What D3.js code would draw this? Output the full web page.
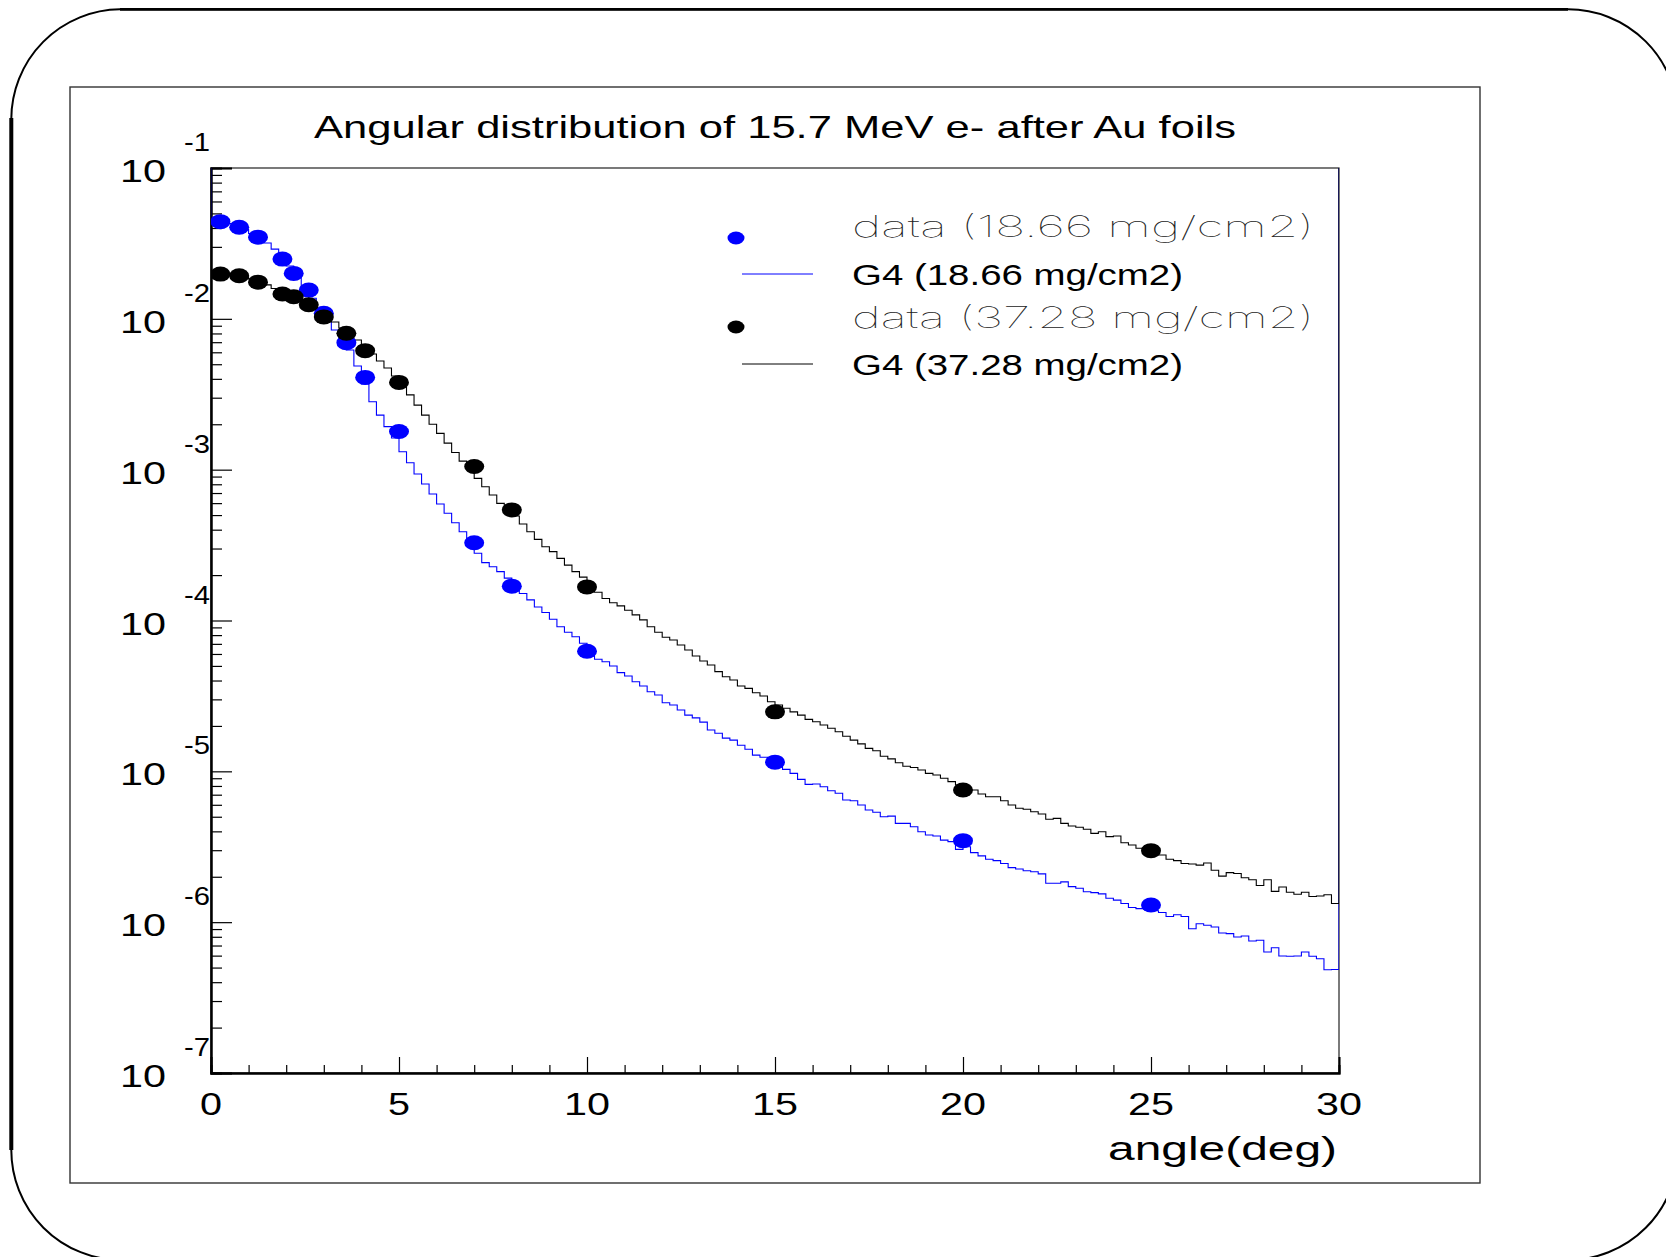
<!DOCTYPE html>
<html><head><meta charset="utf-8">
<script src="https://cdn.jsdelivr.net/npm/d3@7"></script>
<style>html,body{margin:0;padding:0;background:#fff}svg{display:block}</style>
</head><body>
<svg id="c" width="1666" height="1257"></svg>
<script>
// ---------------- data ----------------
const titleText = "Angular distribution of 15.7 MeV e- after Au foils";
const xAxisTitle = "angle(deg)";
const xTickValues = [0, 5, 10, 15, 20, 25, 30];
const yDecadeExponents = [-1, -2, -3, -4, -5, -6, -7];
const seriesLabels = ["data (18.66 mg/cm2)", "G4 (18.66 mg/cm2)", "data (37.28 mg/cm2)", "G4 (37.28 mg/cm2)"];

// histogram binning (150 bins of 0.2 deg from 0 to 30 deg)
const histLow = 0, histHigh = 30, histBins = 150;

// G4 simulation, 18.66 mg/cm2 (blue)
const g4Thin = [
 0.0459,0.0445,0.0429,0.0409,0.0391,0.0368,0.0344,0.0318,0.0290,0.0257,
 0.0224,0.0192,0.0163,0.0137,0.0116,9.82e-3,8.43e-3,7.24e-3,6.21e-3,4.87e-3,
 3.70e-3,2.82e-3,2.30e-3,1.93e-3,1.62e-3,1.315e-3,1.112e-3,9.36e-4,8.03e-4,6.90e-4,
 5.92e-4,5.14e-4,4.45e-4,3.88e-4,3.31e-4,2.79e-4,2.42e-4,2.27e-4,2.11e-4,1.91e-4,
 1.72e-4,1.51e-4,1.37e-4,1.23e-4,1.13e-4,1.02e-4,9.09e-5,8.35e-5,7.81e-5,7.06e-5,
 6.21e-5,5.53e-5,5.33e-5,4.99e-5,4.51e-5,4.29e-5,3.93e-5,3.68e-5,3.37e-5,3.21e-5,
 2.85e-5,2.75e-5,2.55e-5,2.36e-5,2.26e-5,2.12e-5,1.88e-5,1.79e-5,1.66e-5,1.61e-5,
 1.49e-5,1.40e-5,1.28e-5,1.24e-5,1.19e-5,1.10e-5,1.03e-5,9.70e-6,8.85e-6,8.20e-6,
 8.24e-6,7.91e-6,7.44e-6,7.15e-6,6.45e-6,6.38e-6,5.98e-6,5.54e-6,5.35e-6,5.00e-6,
 5.05e-6,4.52e-6,4.52e-6,4.29e-6,3.98e-6,3.78e-6,3.73e-6,3.50e-6,3.42e-6,3.04e-6,
 3.16e-6,2.89e-6,2.75e-6,2.61e-6,2.56e-6,2.45e-6,2.30e-6,2.25e-6,2.19e-6,2.16e-6,
 2.09e-6,1.81e-6,1.81e-6,1.85e-6,1.72e-6,1.68e-6,1.59e-6,1.57e-6,1.54e-6,1.44e-6,
 1.40e-6,1.33e-6,1.25e-6,1.23e-6,1.22e-6,1.19e-6,1.16e-6,1.09e-6,1.12e-6,1.09e-6,
 9.05e-7,9.76e-7,9.53e-7,9.29e-7,8.48e-7,8.39e-7,7.97e-7,8.09e-7,7.50e-7,7.58e-7,
 6.34e-7,6.77e-7,5.97e-7,5.95e-7,5.97e-7,6.34e-7,5.95e-7,5.72e-7,4.84e-7,4.85e-7
];
// G4 simulation, 37.28 mg/cm2 (black)
const g4Thick = [
 2.01e-2,1.98e-2,1.97e-2,1.94e-2,1.89e-2,1.84e-2,1.75e-2,1.68e-2,1.59e-2,1.51e-2,
 1.42e-2,1.34e-2,1.27e-2,1.20e-2,1.11e-2,1.03e-2,9.53e-3,8.69e-3,7.93e-3,7.24e-3,
 6.50e-3,5.85e-3,5.25e-3,4.72e-3,4.18e-3,3.59e-3,3.13e-3,2.68e-3,2.30e-3,2.00e-3,
 1.74e-3,1.50e-3,1.30e-3,1.14e-3,1.00e-3,8.76e-4,7.71e-4,6.79e-4,5.98e-4,5.49e-4,
 4.93e-4,4.36e-4,3.88e-4,3.45e-4,3.08e-4,2.86e-4,2.58e-4,2.33e-4,2.11e-4,1.94e-4,
 1.75e-4,1.54e-4,1.40e-4,1.31e-4,1.25e-4,1.17e-4,1.09e-4,1.01e-4,9.09e-5,8.35e-5,
 7.74e-5,7.42e-5,6.88e-5,6.37e-5,5.82e-5,5.39e-5,5.07e-5,4.58e-5,4.24e-5,4.03e-5,
 3.68e-5,3.55e-5,3.32e-5,3.16e-5,2.89e-5,2.75e-5,2.62e-5,2.48e-5,2.36e-5,2.21e-5,
 2.13e-5,2.03e-5,1.93e-5,1.83e-5,1.71e-5,1.61e-5,1.52e-5,1.42e-5,1.37e-5,1.26e-5,
 1.21e-5,1.14e-5,1.08e-5,1.06e-5,1.02e-5,9.70e-6,9.45e-6,8.99e-6,8.54e-6,8.12e-6,
 7.83e-6,7.52e-6,7.07e-6,6.79e-6,6.79e-6,6.38e-6,5.98e-6,5.69e-6,5.60e-6,5.40e-6,
 5.21e-6,4.81e-6,4.88e-6,4.52e-6,4.34e-6,4.26e-6,4.13e-6,3.88e-6,3.98e-6,3.69e-6,
 3.73e-6,3.36e-6,3.25e-6,3.09e-6,3.01e-6,2.87e-6,2.79e-6,2.61e-6,2.56e-6,2.45e-6,
 2.43e-6,2.39e-6,2.47e-6,2.21e-6,2.02e-6,2.13e-6,2.10e-6,1.97e-6,1.91e-6,1.75e-6,
 1.91e-6,1.60e-6,1.71e-6,1.58e-6,1.53e-6,1.58e-6,1.48e-6,1.49e-6,1.52e-6,1.33e-6
];
// measured points
const dataAngles = [0.25,0.75,1.25,1.9,2.2,2.6,3.0,3.6,4.1,5,7,8,10,15,20,25];
const dataThin  = [0.0441,0.0405,0.0348,0.0249,0.0200,0.0155,0.0109,0.00695,0.00409,0.00179,3.28e-4,1.69e-4,6.25e-5,1.15e-5,3.47e-6,1.30e-6];
const dataThick = [0.0198,0.0193,0.0175,0.0146,0.0140,0.0124,0.0103,0.00802,0.00615,0.00379,1.05e-3,5.41e-4,1.67e-4,2.48e-5,7.52e-6,2.98e-6];

// ---------------- drawing ----------------
const svg = d3.select("#c");
svg.append("rect").attr("width",1666).attr("height",1257).attr("fill","#fff");

const FONT = "'Liberation Sans', Arial, Helvetica, sans-serif";
function txt(parent, s, x0, y0, size, len, opt) {
  opt = opt || {};
  const t = parent.append("text").attr("x", x0).attr("y", y0).text(s)
    .attr("font-family", opt.family || FONT).attr("font-size", size)
    .attr("fill", opt.fill || "#000");
  if (opt.weight) t.attr("font-weight", opt.weight);
  if (len) t.attr("textLength", len).attr("lengthAdjust", "spacingAndGlyphs");
  return t;
}

// outer rounded border (partly outside the canvas)
const border = svg.append("g").attr("fill","none").attr("stroke","#000");
border.append("path").attr("stroke-width",2)
  .attr("d","M120,9.3 H1568 A110,110 0 0 1 1678,119 V1150 A110,110 0 0 1 1568,1260 H121 A110,110 0 0 1 11.3,1150 V119 A110,110 0 0 1 120,9.3");
border.append("line").attr("x1",120).attr("x2",1568).attr("y1",9.3).attr("y2",9.3).attr("stroke-width",2.8);
border.append("line").attr("x1",11.3).attr("x2",11.3).attr("y1",118).attr("y2",1150).attr("stroke-width",4);

// pad frame
svg.append("rect").attr("x",70).attr("y",87).attr("width",1410).attr("height",1096)
  .attr("fill","none").attr("stroke","#333").attr("stroke-width",1.4);

// scales
const M = {l:211, r:1339, t:168, b:1073};
const x = d3.scaleLinear().domain([histLow, histHigh]).range([M.l, M.r]);
const y = d3.scaleLog().domain([1e-7, 1e-1]).range([M.b, M.t]);

// frame
svg.append("rect").attr("x",M.l).attr("y",M.t).attr("width",M.r-M.l).attr("height",M.b-M.t)
  .attr("fill","none").attr("stroke","#222").attr("stroke-width",1.2);

// clip
svg.append("clipPath").attr("id","pc").append("rect")
  .attr("x",M.l).attr("y",M.t).attr("width",M.r-M.l).attr("height",M.b-M.t);

// y axis (ticks inside)
const majorY = yDecadeExponents.map(e=>Math.pow(10,e));
const minorY = [];
yDecadeExponents.slice(1).forEach(e=>{ for(let m=2;m<=9;m++) minorY.push(m*Math.pow(10,e)); });
const yMaj = svg.append("g").attr("transform",`translate(${M.l},0)`)
  .call(d3.axisRight(y).tickValues(majorY).tickSize(21).tickFormat(""));
const yMin = svg.append("g").attr("transform",`translate(${M.l},0)`)
  .call(d3.axisRight(y).tickValues(minorY).tickSize(11).tickFormat(""));
[yMaj,yMin].forEach(g=>{ g.selectAll("line").attr("stroke","#000").attr("stroke-width",1.2);
  g.select(".domain").attr("stroke","#000").attr("stroke-width",2); });

// x axis (ticks inside)
const minorX = d3.range(0,31,1).filter(v=>v%5!==0);
const xMaj = svg.append("g").attr("transform",`translate(0,${M.b})`)
  .call(d3.axisTop(x).tickValues(xTickValues).tickSize(16).tickFormat(""));
const xMin = svg.append("g").attr("transform",`translate(0,${M.b})`)
  .call(d3.axisTop(x).tickValues(minorX).tickSize(8).tickFormat(""));
[xMaj,xMin].forEach(g=>{ g.selectAll("line").attr("stroke","#000").attr("stroke-width",1.2);
  g.select(".domain").attr("stroke","#000").attr("stroke-width",2); });

// histograms (edge verticals run to the top of the frame, as in the original)
const bw = (histHigh-histLow)/histBins;
const yTop = 1e-1;
function histPts(vals){
  const p = [[histLow, yTop]];
  vals.forEach((v,i)=>p.push([histLow+i*bw, v]));
  p.push([histHigh, vals[vals.length-1]]);
  p.push([histHigh, yTop]);
  return p;
}
const hl = d3.line().x(d=>x(d[0])).y(d=>y(d[1])).curve(d3.curveStepAfter);
const plot = svg.append("g").attr("clip-path","url(#pc)");
plot.append("path").attr("d", hl(histPts(g4Thin))).attr("fill","none").attr("stroke","#0000ff").attr("stroke-width",1.1);
plot.append("path").attr("d", hl(histPts(g4Thick))).attr("fill","none").attr("stroke","#000").attr("stroke-width",1.1);

// markers
const RX = 10, RY = 7.5;
plot.append("g").selectAll("ellipse").data(dataAngles.map((a,i)=>[a,dataThin[i]])).join("ellipse")
  .attr("cx",d=>x(d[0])).attr("cy",d=>y(d[1])).attr("rx",RX).attr("ry",RY).attr("fill","#0000ff");
plot.append("g").selectAll("ellipse").data(dataAngles.map((a,i)=>[a,dataThick[i]])).join("ellipse")
  .attr("cx",d=>x(d[0])).attr("cy",d=>y(d[1])).attr("rx",RX).attr("ry",RY).attr("fill","#000");

// y tick labels 10^e
yDecadeExponents.forEach(e=>{
  const yy = y(Math.pow(10,e));
  txt(svg, "10", 120, yy+14, 32, 46);
  txt(svg, String(e), 184, yy-17, 26, 26);
});
// x tick labels
xTickValues.forEach(v=>{
  const s = String(v), w = s.length===1 ? 22 : 46;
  txt(svg, s, x(v)-w/2, 1115, 31, w);
});

// titles
txt(svg, titleText, 314, 138, 32, 922);
txt(svg, xAxisTitle, 1108, 1160, 34, 229);

// legend
const THIN = "'Inter', 'Lato', 'DejaVu Sans', sans-serif";
svg.append("ellipse").attr("cx",736).attr("cy",238).attr("rx",8.5).attr("ry",6.5).attr("fill","#0000ff");
svg.append("line").attr("x1",742).attr("x2",813).attr("y1",274).attr("y2",274).attr("stroke","#0000ff").attr("stroke-width",1);
svg.append("ellipse").attr("cx",736).attr("cy",327).attr("rx",8.5).attr("ry",6.5).attr("fill","#000");
svg.append("line").attr("x1",742).attr("x2",813).attr("y1",364).attr("y2",364).attr("stroke","#000").attr("stroke-width",1);
txt(svg, seriesLabels[0], 852, 237, 29, 462, {family:THIN, weight:100, fill:"#222"});
txt(svg, seriesLabels[1], 852, 285, 30, 331);
txt(svg, seriesLabels[2], 852, 328, 29, 462, {family:THIN, weight:100, fill:"#222"});
txt(svg, seriesLabels[3], 852, 375, 30, 331);
</script>
</body></html>
